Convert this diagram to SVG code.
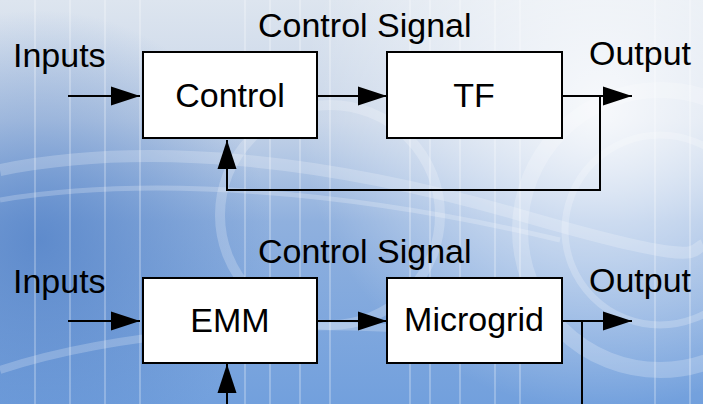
<svg xmlns="http://www.w3.org/2000/svg" width="703" height="404" viewBox="0 0 703 404">
<defs>
<linearGradient id="bg" x1="0" y1="0" x2="0" y2="1">
<stop offset="0" stop-color="#dde5ef"/>
<stop offset="0.3" stop-color="#c6d4e8"/>
<stop offset="0.55" stop-color="#8fb0de"/>
<stop offset="1" stop-color="#72a0dd"/>
</linearGradient>
<radialGradient id="hl" cx="600" cy="110" r="300" gradientUnits="userSpaceOnUse">
<stop offset="0" stop-color="#ffffff" stop-opacity="0.85"/>
<stop offset="0.5" stop-color="#ffffff" stop-opacity="0.45"/>
<stop offset="1" stop-color="#ffffff" stop-opacity="0"/>
</radialGradient>
<radialGradient id="dk" cx="40" cy="240" r="230" gradientUnits="userSpaceOnUse">
<stop offset="0" stop-color="#4f7fc6" stop-opacity="0.75"/>
<stop offset="1" stop-color="#4f7fc6" stop-opacity="0"/>
</radialGradient>
<marker id="ah" markerUnits="userSpaceOnUse" markerWidth="29" markerHeight="20" refX="29" refY="10" orient="auto">
<path d="M0,0.5 L29,10 L0,19.5 z" fill="#000"/>
</marker>
<style>
.box{fill:#fff;stroke:#000;stroke-width:2}
.lbl{font-family:"Liberation Sans",Arial,sans-serif;font-size:34px;fill:#000}
.c{text-anchor:middle}
.wire{fill:none;stroke:#000;stroke-width:2}
.bgl{stroke:#fff;stroke-opacity:0.25;stroke-width:2;fill:none}
.arc{stroke:#fff;stroke-opacity:0.22;fill:none}
</style>
</defs>
<g id="background">
<rect width="703" height="404" fill="url(#bg)"/>
<rect width="703" height="404" fill="url(#dk)"/>
<rect width="703" height="404" fill="url(#hl)"/>
<path class="bgl" d="M35,0V404M70,0V404M105,0V404M140,0V404M245,0V404M270,0V404M300,0V404M330,0V404M410,0V404M430,0V404M460,0V404M495,0V404M520,0V404M655,0V404M690,0V404"/>
<path class="arc" stroke-width="12" d="M0,170 C150,140 330,160 520,215 S690,250 703,245"/>
<path class="arc" stroke-width="5" d="M0,200 C150,175 350,190 560,240"/>
<path class="arc" stroke-width="8" d="M0,370 C120,330 300,320 420,330"/>
<circle class="arc" stroke-width="10" cx="330" cy="215" r="110"/>
<circle class="arc" stroke-width="16" cx="660" cy="230" r="140"/>
<circle class="arc" stroke-width="7" cx="660" cy="230" r="95"/>
</g>
<g id="connectors">
<path class="wire" marker-end="url(#ah)" d="M68,96H140"/>
<path class="wire" marker-end="url(#ah)" d="M317,96H387"/>
<path class="wire" marker-end="url(#ah)" d="M562,96H632"/>
<path class="wire" marker-end="url(#ah)" d="M600,96V190H227V140"/>
<path class="wire" marker-end="url(#ah)" d="M68,321H140"/>
<path class="wire" marker-end="url(#ah)" d="M317,321H387"/>
<path class="wire" marker-end="url(#ah)" d="M562,321H632"/>
<path class="wire" d="M582,321V404"/>
<path class="wire" marker-end="url(#ah)" d="M227,404V364"/>
</g>
<g id="labels">
<text class="lbl" x="13" y="67">Inputs</text>
<text class="lbl" x="258" y="37">Control Signal</text>
<text class="lbl" x="589" y="65">Output</text>
<text class="lbl" x="13" y="293">Inputs</text>
<text class="lbl" x="258" y="263">Control Signal</text>
<text class="lbl" x="589" y="292">Output</text>
</g>
<g id="node-control">
<rect class="box" x="143" y="52" width="174" height="86"/>
<text class="lbl c" x="230" y="107">Control</text>
</g>
<g id="node-tf">
<rect class="box" x="387" y="52" width="175" height="86"/>
<text class="lbl c" x="474" y="107">TF</text>
</g>
<g id="node-emm">
<rect class="box" x="143" y="278" width="174" height="85"/>
<text class="lbl c" x="230" y="332">EMM</text>
</g>
<g id="node-microgrid">
<rect class="box" x="387" y="278" width="175" height="85"/>
<text class="lbl c" x="474" y="331">Microgrid</text>
</g>
</svg>
